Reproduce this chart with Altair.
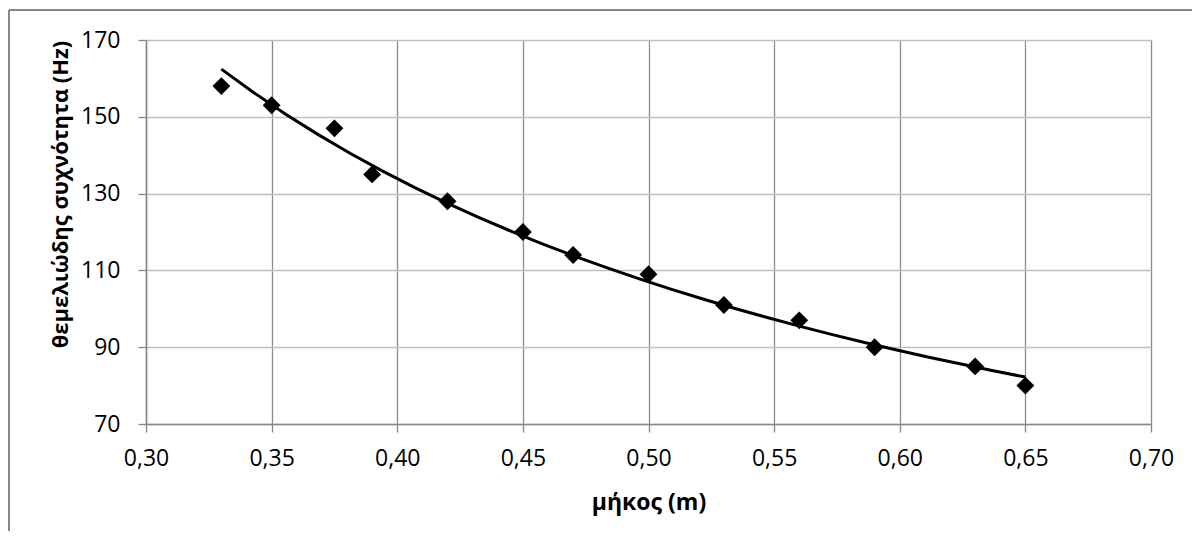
import altair as alt
import pandas as pd

# data
length_m = [0.33, 0.35, 0.375, 0.39, 0.42, 0.45, 0.47, 0.50, 0.53, 0.56, 0.59, 0.63, 0.65]
freq_hz = [158, 153, 147, 135, 128, 120, 114, 109, 101, 97, 90, 85, 80]

x_ticks = [0.30, 0.35, 0.40, 0.45, 0.50, 0.55, 0.60, 0.65, 0.70]
y_ticks = [70, 75, 80, 85, 90, 95, 100, 105, 110, 115, 120, 125, 130, 135, 140,
           145, 150, 155, 160, 165, 170]

df = pd.DataFrame({"x": length_m, "y": freq_hz})

FONT = "Open Sans"
GRAY = "#868686"

x_enc = alt.X(
    "x:Q",
    scale=alt.Scale(domain=[0.30, 0.70], nice=False, zero=False),
    axis=alt.Axis(
        values=x_ticks,
        labelExpr="replace(format(datum.value, '.2f'), '.', ',')",
        title="μήκος (m)",
        grid=True,
        gridColor="#8c8c8c",
        gridWidth=1.3,
        domainColor=GRAY,
        domainWidth=1.5,
        tickColor=GRAY,
        tickSize=8,
        tickWidth=1.3,
        labelPadding=15,
        labelFontSize=23,
        labelFont=FONT,
        labelColor="black",
        titleFont=FONT,
        titleFontSize=23,
        titleFontWeight="bold",
        titleColor="black",
        titleBaseline="alphabetic",
        titleY=85,
        labelFlush=False,
    ),
)

y_enc = alt.Y(
    "y:Q",
    scale=alt.Scale(domain=[70, 170], nice=False, zero=False),
    axis=alt.Axis(
        values=y_ticks,
        labelExpr="datum.value % 20 == 10 ? format(datum.value, 'd') : ''",
        title="θεμελιώδης συχνότητα (Hz)",
        grid=True,
        gridColor="#bfbfbf",
        gridWidth=1.3,
        domainColor=GRAY,
        domainWidth=1.5,
        tickColor=GRAY,
        tickSize=8,
        tickWidth=1.3,
        labelPadding=18,
        labelFontSize=23,
        labelFont=FONT,
        labelColor="black",
        titleFont=FONT,
        titleFontSize=22,
        titleFontWeight="bold",
        titleColor="black",
        titleAngle=270,
        titleBaseline="alphabetic",
        titleAlign="center",
        titleX=-79,
        titleY=154,
        labelFlush=False,
        labelOverlap=False,
    ),
)

base = alt.Chart(df)

points = base.mark_point(shape="diamond", filled=True, size=320, color="black", opacity=1).encode(
    x=x_enc, y=y_enc
)

trend = (
    base.transform_regression("x", "y", method="pow")
    .mark_line(color="black", strokeWidth=3)
    .encode(x="x:Q", y="y:Q")
)

border_df = pd.DataFrame({"a": [0]})
border_top = alt.Chart(border_df).mark_rule(color=GRAY, strokeWidth=2).encode(
    x=alt.value(-137), x2=alt.value(1200), y=alt.value(-30)
)
border_left = alt.Chart(border_df).mark_rule(color=GRAY, strokeWidth=2).encode(
    x=alt.value(-137), y=alt.value(-30), y2=alt.value(700)
)

chart = (
    alt.layer(trend, points, border_top, border_left)
    .properties(
        width=1005,
        height=384,
        autosize=alt.AutoSizeParams(type="none"),
        padding={"left": 138, "top": 32, "right": 41, "bottom": 107},
        background="white",
    )
    .configure_view(strokeWidth=0)
)

chart.save("out.html", embed_options={"renderer": "svg", "actions": False})
